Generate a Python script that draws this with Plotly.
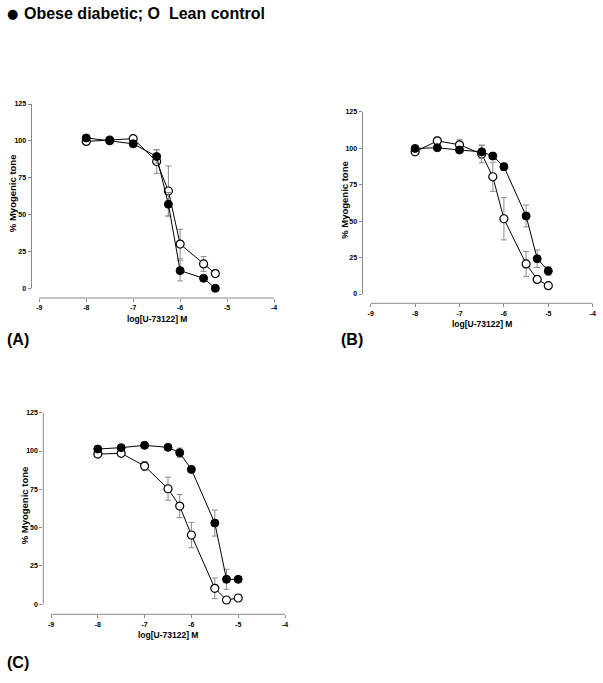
import plotly.graph_objects as go

# ---------------- data ----------------
conc_A = [-8, -7.5, -7, -6.5, -6.25, -6, -5.5, -5.25]
A_obese = [102, 100, 98, 89.4, 57, 12, 6.8, 0]
A_obese_err = [2, 1.5, 2, 4.5, 8, 7, 1.5, 1]
A_lean = [99.6, 100.5, 101.5, 86, 66, 30, 16.5, 10]
A_lean_err = [1.5, 1.5, 1.5, 8, 17, 10, 5, 1.5]

conc_BC = [-8, -7.5, -7, -6.5, -6.25, -6, -5.5, -5.25, -5]
B_obese = [99.8, 100.3, 98.7, 97.5, 94.6, 87.3, 53.5, 24.2, 15.8]
B_obese_err = [1.5, 1.5, 1.5, 4.5, 2, 2.5, 7.5, 6, 3]
B_lean = [97.5, 105, 102.3, 96, 80.4, 51.6, 20.6, 10, 5.7]
B_lean_err = [1.5, 2.5, 3.5, 6, 10, 14.5, 8.5, 1.5, 1.5]

C_obese = [101.3, 102.2, 103.7, 102.4, 98.9, 88, 53, 16.3, 16.3]
C_obese_err = [1.5, 1.5, 1.5, 1.5, 3, 1.5, 8.5, 6.5, 1.5]
C_lean = [98, 98.5, 90.2, 75.4, 64.1, 45.2, 10.4, 2.8, 4.1]
C_lean_err = [1.5, 1.5, 3, 7.5, 7.5, 8.3, 6.7, 1.5, 1.5]

x_ticks = [-9, -8, -7, -6, -5, -4]
y_ticks = [0, 25, 50, 75, 100, 125]

header_mark = "●"
header = "Obese diabetic; O  Lean control"
x_title = "log[U-73122] M"
y_title = "% Myogenic tone"
panel_labels = ["(A)", "(B)", "(C)"]

# ---------------- layout geometry (window pixels) ----------------
W, H = 603, 683
FONT = "Liberation Sans, Arial, sans-serif"
AXIS_GRAY = "#8a8a8a"

panels = [
    dict(yax=31.5, xm9=39.3, xm4=274.0, y125=104.0, y0=288.3, xax=298.0, yt=19.5, lab=(5, 339)),
    dict(yax=362.5, xm9=370.7, xm4=592.7, y125=111.7, y0=294.0, xax=303.3, yt=17.5, lab=(339, 339)),
    dict(yax=43.3, xm9=51.0, xm4=285.0, y125=412.7, y0=604.3, xax=614.3, yt=18.5, lab=(5, 662)),
]
series = [
    (conc_A, A_obese, A_obese_err, A_lean, A_lean_err),
    (conc_BC, B_obese, B_obese_err, B_lean, B_lean_err),
    (conc_BC, C_obese, C_obese_err, C_lean, C_lean_err),
]

fx = lambda p: p / W
fy = lambda p: 1 - p / H

fig = go.Figure()
annotations = []
shapes = []

for i, (p, s) in enumerate(zip(panels, series)):
    n = "" if i == 0 else str(i + 1)
    xa, ya = "x" + n, "y" + n
    xpu = (p["xm4"] - p["xm9"]) / 5
    xmin = -9 - (p["xm9"] - p["yax"]) / xpu
    ypu = (p["y0"] - p["y125"]) / 125
    ymin = -(p["xax"] - p["y0"]) / ypu

    conc, ob, obe, le, lee = s
    fig.add_trace(go.Scatter(
        x=conc, y=le, xaxis=xa, yaxis=ya, mode="lines+markers",
        line=dict(color="black", width=1),
        marker=dict(symbol="circle", size=8, color="white", line=dict(color="black", width=1.2)),
        error_y=dict(type="data", array=lee, color=AXIS_GRAY, thickness=1, width=3),
        cliponaxis=False, showlegend=False, name="Lean control"))
    fig.add_trace(go.Scatter(
        x=conc, y=ob, xaxis=xa, yaxis=ya, mode="lines+markers",
        line=dict(color="black", width=1),
        marker=dict(symbol="circle", size=8, color="black", line=dict(color="black", width=1)),
        error_y=dict(type="data", array=obe, color=AXIS_GRAY, thickness=1, width=3),
        cliponaxis=False, showlegend=False, name="Obese diabetic"))

    common = dict(showgrid=False, zeroline=False, showline=False, ticks="outside",
                  ticklen=3, tickcolor=AXIS_GRAY, tickwidth=1, automargin=False,
                  tickfont=dict(family=FONT, size=7, color="black", weight="bold"))
    fig.update_layout(**{
        ("xaxis" + n): dict(domain=[fx(p["yax"]), fx(p["xm4"])], range=[xmin, -4],
                            anchor=ya, tickvals=x_ticks, ticktext=[str(t) for t in x_ticks], **common),
        ("yaxis" + n): dict(domain=[fy(p["xax"]), fy(p["y125"])], range=[ymin, 125],
                            anchor=xa, tickvals=y_ticks, ticktext=[str(t) for t in y_ticks], **common),
    })
    shapes.append(dict(type="line", xref=xa, yref=ya + " domain", x0=-9, x1=-4, y0=0, y1=0,
                       line=dict(color=AXIS_GRAY, width=1)))
    shapes.append(dict(type="line", xref=xa + " domain", yref=ya, x0=0, x1=0, y0=0, y1=125,
                       line=dict(color=AXIS_GRAY, width=1)))

    annotations.append(dict(text=x_title, xref="paper", yref="paper",
                            x=fx((p["xm9"] + p["xm4"]) / 2), y=fy(p["xax"] + 21),
                            xanchor="center", yanchor="middle", showarrow=False,
                            font=dict(family=FONT, size=8.5, color="black", weight="bold")))
    annotations.append(dict(text=y_title, xref="paper", yref="paper", textangle=-90,
                            x=fx(p["yax"] - p["yt"]), y=fy((p["y125"] + p["y0"]) / 2 - 3),
                            xanchor="center", yanchor="middle", showarrow=False,
                            font=dict(family=FONT, size=9.5, color="black", weight="bold")))
    annotations.append(dict(text=panel_labels[i], xref="paper", yref="paper",
                            x=fx(p["lab"][0]), y=fy(p["lab"][1]),
                            xanchor="left", yanchor="middle", showarrow=False,
                            font=dict(family=FONT, size=16, color="black", weight="bold")))

annotations.append(dict(text=header_mark, xref="paper", yref="paper", x=fx(5), y=fy(13),
                        xanchor="left", yanchor="middle", showarrow=False,
                        font=dict(family="DejaVu Sans", size=13, color="black")))
annotations.append(dict(text=header, xref="paper", yref="paper", x=fx(22), y=fy(13),
                        xanchor="left", yanchor="middle", showarrow=False,
                        font=dict(family=FONT, size=16, color="black", weight="bold")))

fig.update_layout(width=W, height=H, margin=dict(l=0, r=0, t=0, b=0),
                  paper_bgcolor="white", plot_bgcolor="white",
                  annotations=annotations, shapes=shapes, showlegend=False)

# place the 603x683 figure flush with the window (no default page margin)
fig.write_html("out.html", config={"displayModeBar": False},
               post_script="document.body.style.margin='0';")
